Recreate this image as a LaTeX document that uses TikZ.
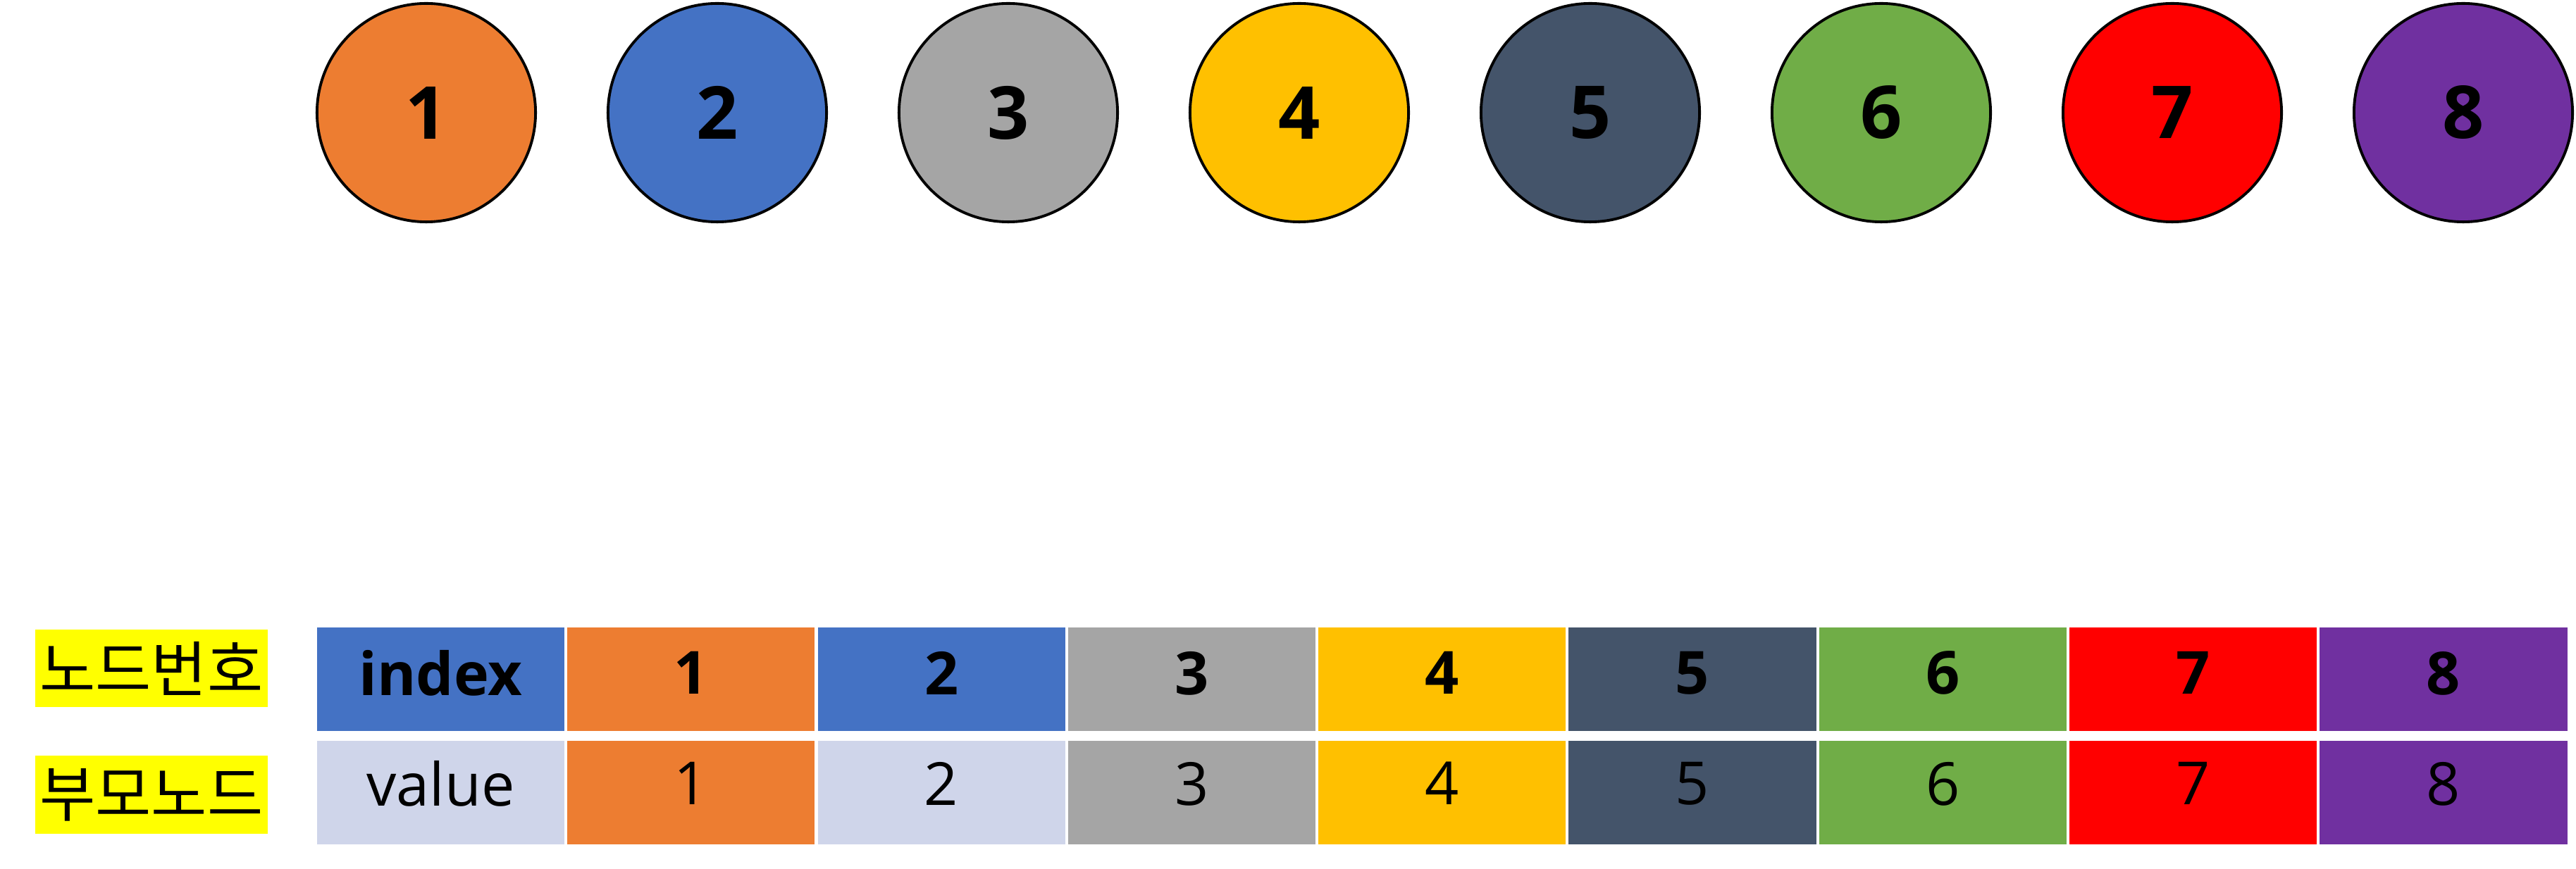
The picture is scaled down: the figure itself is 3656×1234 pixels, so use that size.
\documentclass[tikz,border=0pt]{standalone}
\usepackage{fontspec}
\setmainfont{Open Sans}
\newfontfamily\kr{Noto Sans CJK KR}
\definecolor{c1}{HTML}{ED7D31}
\definecolor{c2}{HTML}{4472C4}
\definecolor{c3}{HTML}{A5A5A5}
\definecolor{c4}{HTML}{FFC000}
\definecolor{c5}{HTML}{44546A}
\definecolor{c6}{HTML}{70AD47}
\definecolor{c7}{HTML}{FF0000}
\definecolor{c8}{HTML}{7030A0}
\definecolor{cv}{HTML}{CFD5EA}
\definecolor{cy}{HTML}{FFFF00}
\begin{document}
\begin{tikzpicture}[x=0.01cm,y=-0.01cm,
  circ/.style={circle,draw=black,line width=1.1pt,minimum size=3.1cm,inner sep=0pt,
    font=\fontsize{29.5}{34}\selectfont\bfseries},
  cell/.style={rectangle,minimum width=3.51cm,minimum height=1.47cm,inner sep=0pt},
  headcell/.style={cell,text depth=0.18cm,font=\fontsize{24}{28}\selectfont\bfseries},
  valcell/.style={cell,text depth=0.26cm,font=\fontsize{24}{28}\selectfont},
  lbl/.style={rectangle,fill=cy,minimum width=3.3cm,minimum height=1.1cm,inner sep=0pt,
    font=\kr\fontsize{24.5}{28}\selectfont}]
\useasboundingbox (0,0) rectangle (3656,1234);
% circles
\foreach \i in {1,...,8}{
  \node[circ,fill=c\i] (n\i) at ({605+(\i-1)*413},160) {\i};
}
% labels
\node[lbl] (lb1) at (215,949) {노드번호};
\node[lbl] (lb2) at (215,1128.5) {부모노드};
% header row
\node[headcell,fill=c2] (hidx) at (625.5,964.5) {index};
\node[valcell,fill=cv] (vidx) at (625.5,1125.5) {value};
\foreach \i in {1,...,8}{
  \node[headcell,fill=c\i] (h\i) at ({625.5+\i*355.3},964.5) {\i};
}
\foreach \i/\c in {1/c1,2/cv,3/c3,4/c4,5/c5,6/c6,7/c7,8/c8}{
  \node[valcell,fill=\c] (v\i) at ({625.5+\i*355.3},1125.5) {\i};
}
\end{tikzpicture}
\end{document}
